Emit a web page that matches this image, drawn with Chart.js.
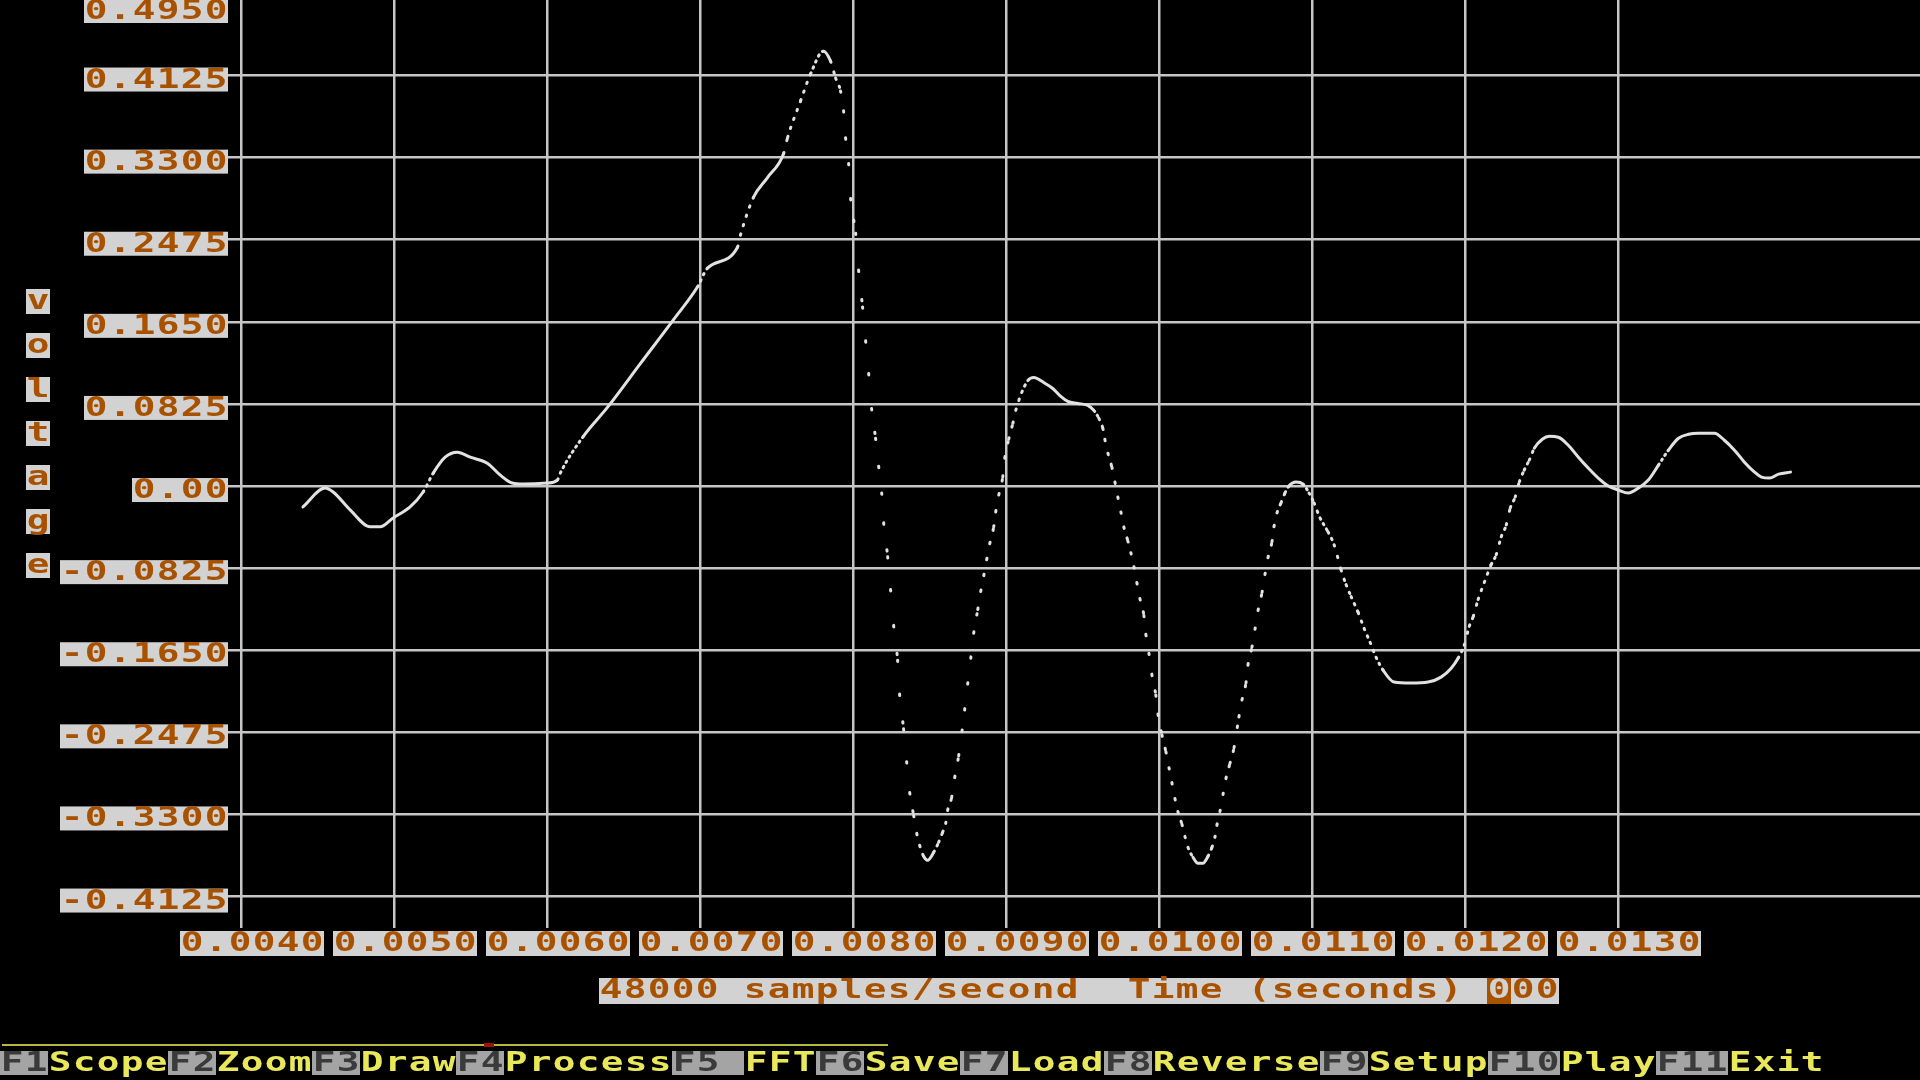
<!DOCTYPE html>
<html><head><meta charset="utf-8">
<script src="https://cdn.jsdelivr.net/npm/chart.js@4/dist/chart.umd.min.js"></script>
<style>html,body{margin:0;padding:0;background:#000;overflow:hidden}#wrap{position:relative;width:1920px;height:1080px;background:#000}</style>
</head><body><div id="wrap"><canvas id="c"></canvas></div>
<script>
const SAMPLE_RATE = 48000;
const xTickValues = [0.004,0.005,0.006,0.007,0.008,0.009,0.010,0.011,0.012,0.013];
const xTickLabels = ['0.0040','0.0050','0.0060','0.0070','0.0080','0.0090','0.0100','0.0110','0.0120','0.0130'];
const yTickValues = [0.495,0.4125,0.33,0.2475,0.165,0.0825,0,-0.0825,-0.165,-0.2475,-0.33,-0.4125];
const yTickLabels = ['0.4950','0.4125','0.3300','0.2475','0.1650','0.0825','0.00','-0.0825','-0.1650','-0.2475','-0.3300','-0.4125'];
const xTitle = '48000 samples/second  Time (seconds) 000';
const yTitle = 'voltage';
const menuKeys  = ['F1','F2','F3','F4','F5 ','F6','F7','F8','F9','F10','F11'];
const menuNames = ['Scope','Zoom','Draw','Process','FFT','Save','Load','Reverse','Setup','Play','Exit'];

const timeSec = [
0.004405,0.004549,0.004602,0.004713,0.004844,0.004909,0.004994,0.005105,0.005190,0.005256,
0.005334,0.005413,0.005498,0.005609,0.005694,0.005772,0.005844,0.006001,0.006067,0.006086,
0.006237,0.006394,0.006609,0.006825,0.006982,0.007048,0.007244,0.007263,0.007348,0.007440,
0.007545,0.007571,0.007656,0.007721,0.007806,0.007852,0.007885,0.007917,0.007937,0.007950,
0.007970,0.007983,0.008016,0.008035,0.008061,0.008081,0.008101,0.008120,0.008146,0.008166,
0.008186,0.008199,0.008225,0.008244,0.008264,0.008290,0.008303,0.008329,0.008349,0.008369,
0.008395,0.008415,0.008434,0.008460,0.008486,0.008526,0.008558,0.008584,0.008604,0.008617,
0.008643,0.008663,0.008689,0.008728,0.008748,0.008768,0.008787,0.008814,0.008833,0.008853,
0.008872,0.008892,0.008918,0.008931,0.008951,0.008977,0.008990,0.009016,0.009043,0.009062,
0.009082,0.009101,0.009141,0.009180,0.009245,0.009304,0.009356,0.009402,0.009467,0.009533,
0.009572,0.009605,0.009631,0.009644,0.009664,0.009690,0.009710,0.009729,0.009749,0.009768,
0.009794,0.009814,0.009834,0.009853,0.009873,0.009899,0.009912,0.009932,0.009951,0.009977,
0.009991,0.010017,0.010043,0.010063,0.010082,0.010102,0.010121,0.010148,0.010167,0.010187,
0.010220,0.010252,0.010285,0.010318,0.010344,0.010363,0.010376,0.010396,0.010416,0.010435,
0.010461,0.010488,0.010520,0.010540,0.010566,0.010579,0.010605,0.010625,0.010645,0.010671,
0.010690,0.010710,0.010736,0.010749,0.010769,0.010795,0.010821,0.010847,0.010893,0.010939,
0.010978,0.011011,0.011050,0.011102,0.011142,0.011187,0.011220,0.011253,0.011299,0.011338,
0.011377,0.011416,0.011462,0.011534,0.011645,0.011756,0.011841,0.011907,0.011952,0.011992,
0.012025,0.012051,0.012083,0.012123,0.012168,0.012201,0.012234,0.012267,0.012293,0.012325,
0.012352,0.012384,0.012417,0.012450,0.012502,0.012548,0.012607,0.012672,0.012738,0.012803,
0.012868,0.012934,0.012999,0.013064,0.013130,0.013195,0.013261,0.013326,0.013392,0.013457,
0.013522,0.013627,0.013692,0.013758,0.013823,0.013889,0.013934,0.013987,0.014046,0.014124
];
const voltage = [
-0.021,-0.002,-0.006,-0.024,-0.041,-0.041,-0.032,-0.021,-0.006,0.013,
0.029,0.034,0.029,0.023,0.011,0.003,0.002,0.003,0.006,0.013,
0.050,0.079,0.123,0.167,0.200,0.219,0.240,0.252,0.290,0.310,
0.334,0.350,0.387,0.414,0.437,0.427,0.410,0.397,0.377,0.350,
0.324,0.289,0.254,0.217,0.180,0.146,0.113,0.078,0.048,0.020,
-0.007,-0.037,-0.071,-0.104,-0.140,-0.175,-0.209,-0.244,-0.277,-0.308,
-0.331,-0.349,-0.361,-0.372,-0.376,-0.368,-0.358,-0.348,-0.339,-0.326,
-0.313,-0.293,-0.271,-0.225,-0.199,-0.173,-0.148,-0.124,-0.106,-0.090,
-0.074,-0.058,-0.041,-0.026,-0.009,0.009,0.028,0.047,0.063,0.076,
0.086,0.094,0.106,0.109,0.104,0.098,0.090,0.085,0.083,0.081,
0.076,0.068,0.058,0.047,0.033,0.019,0.004,-0.011,-0.026,-0.041,
-0.055,-0.067,-0.081,-0.097,-0.113,-0.130,-0.149,-0.168,-0.189,-0.210,
-0.229,-0.250,-0.267,-0.283,-0.298,-0.314,-0.327,-0.340,-0.352,-0.363,
-0.373,-0.379,-0.379,-0.372,-0.363,-0.353,-0.341,-0.327,-0.310,-0.294,
-0.279,-0.263,-0.232,-0.215,-0.198,-0.180,-0.162,-0.144,-0.125,-0.107,
-0.089,-0.072,-0.056,-0.041,-0.027,-0.017,-0.007,0.000,0.004,0.002,
-0.007,-0.017,-0.032,-0.046,-0.059,-0.084,-0.099,-0.111,-0.127,-0.143,
-0.157,-0.172,-0.185,-0.197,-0.198,-0.197,-0.192,-0.183,-0.173,-0.160,
-0.141,-0.131,-0.114,-0.097,-0.079,-0.069,-0.051,-0.039,-0.022,-0.011,
0.004,0.016,0.026,0.038,0.047,0.050,0.049,0.041,0.029,0.018,
0.008,0.000,-0.004,-0.007,-0.002,0.006,0.021,0.036,0.048,0.052,
0.053,0.053,0.046,0.036,0.024,0.014,0.009,0.008,0.012,0.014
];

const CELL = 24;
const FONT = 'bold 26px "DejaVu Sans Mono"';
const LABEL_BG = '#d2d2d2';
const LABEL_FG = '#a85200';
let samplePx = 3.19;

function cellText(ctx, str, x, top, h, fg, bg) {
  if (bg) { ctx.fillStyle = bg; ctx.fillRect(x, top, str.length * CELL, h); }
  ctx.save();
  ctx.font = FONT; ctx.fillStyle = fg; ctx.textAlign = 'center'; ctx.textBaseline = 'alphabetic';
  for (let i = 0; i < str.length; i++) {
    const cx = x + i * CELL + CELL / 2;
    ctx.save(); ctx.translate(cx, top + 20); ctx.scale(1.45, 1); ctx.fillText(str[i], 0, 0); ctx.restore();
  }
  ctx.restore();
}

const screenText = {
  id: 'screenText',
  afterLayout(chart) {
    const xs = chart.scales.x;
    samplePx = xs.getPixelForValue(xs.min + 1 / SAMPLE_RATE) - xs.getPixelForValue(xs.min);
  },
  afterDraw(chart) {
    const ctx = chart.ctx, xs = chart.scales.x, ys = chart.scales.y;
    yTickValues.forEach((v, i) => {
      const lab = yTickLabels[i];
      const py = ys.getPixelForValue(v);
      const top = Math.max(py - 8, -1);
      cellText(ctx, lab, 228 - lab.length * CELL, top, 24, LABEL_FG, LABEL_BG);
    });
    xTickValues.forEach((v, i) => {
      const lab = xTickLabels[i];
      const px = xs.getPixelForValue(v);
      cellText(ctx, lab, Math.round(px + 11 - lab.length * CELL / 2), 931, 25, LABEL_FG, LABEL_BG);
    });
    cellText(ctx, xTitle, 599, 978, 26, LABEL_FG, LABEL_BG);
    ctx.fillStyle = LABEL_FG; ctx.fillRect(599 + 37 * CELL, 978, CELL, 26);
    cellText(ctx, xTitle[37], 599 + 37 * CELL, 978, 26, LABEL_BG, null);
    for (let i = 0; i < yTitle.length; i++) {
      cellText(ctx, yTitle[i], 26, 289 + i * 44, 25, LABEL_FG, LABEL_BG);
    }
    ctx.fillStyle = '#b8b83c'; ctx.fillRect(2, 1044, 886, 2);
    ctx.fillStyle = '#a01010'; ctx.fillRect(484, 1043, 10, 4);
    let mx = 0;
    for (let i = 0; i < menuKeys.length; i++) {
      cellText(ctx, menuKeys[i], mx, 1051, 24, '#3a3a3a', '#a4a4a4');
      mx += menuKeys[i].length * CELL;
      cellText(ctx, menuNames[i], mx, 1051, 24, '#e8e85a', null);
      mx += menuNames[i].length * CELL;
    }
  }
};

function steepness(c) {
  const dx = Math.abs(c.p1.x - c.p0.x), dy = Math.abs(c.p1.y - c.p0.y);
  return dy / Math.max(dx, 0.01);
}

new Chart(document.getElementById('c'), {
  type: 'line',
  data: {
    datasets: [{
      data: timeSec.map((t, i) => ({ x: t, y: voltage[i] })),
      borderColor: '#e2e2e2',
      borderWidth: 3,
      borderCapStyle: 'round',
      borderJoinStyle: 'round',
      pointRadius: 0,
      cubicInterpolationMode: 'monotone',
      segment: {
        borderDash: c => {
          const s = steepness(c);
          if (s < 1.5) return undefined;
          const period = samplePx * Math.sqrt(1 + s * s);
          return [1.4, Math.max(period - 1.4, 1)];
        }
      }
    }]
  },
  options: {
    responsive: true,
    maintainAspectRatio: false,
    animation: false,
    events: [],
    layout: { padding: { left: 228, right: 0, top: 0, bottom: 152 } },
    plugins: { legend: { display: false }, tooltip: { enabled: false } },
    scales: {
      x: {
        type: 'linear', min: 0.004, max: 0.01497,
        border: { display: false },
        grid: { color: '#c6c6c6', lineWidth: 2.5, drawTicks: false },
        ticks: { display: false },
        afterBuildTicks: s => { s.ticks = xTickValues.map(v => ({ value: v })); }
      },
      y: {
        type: 'linear', min: -0.4441, max: 0.4884,
        border: { display: false },
        grid: { color: '#c6c6c6', lineWidth: 2.5, drawTicks: true, tickLength: 13 },
        ticks: { display: false },
        afterBuildTicks: s => { s.ticks = yTickValues.filter(v => v <= s.max && v >= s.min).map(v => ({ value: v })); }
      }
    }
  },
  plugins: [screenText]
});
</script>
</body></html>
